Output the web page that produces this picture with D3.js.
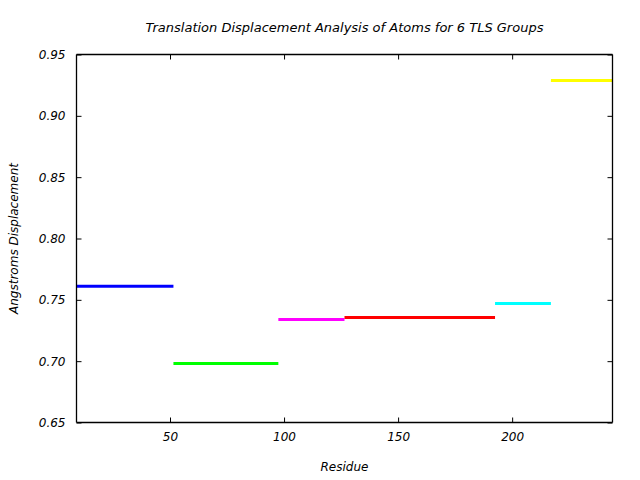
<!DOCTYPE html>
<html><head><meta charset="utf-8">
<script src="https://cdn.jsdelivr.net/npm/d3@7"></script>
<style>body{margin:0;background:#fff}</style>
</head><body>
<svg id="c" width="640" height="480"></svg>
<script>
const groupStart = [9, 51.5, 97.5, 126.5, 192.5, 217];
const groupEnd   = [51.5, 97.5, 126.5, 192.5, 217, 244];
const displacement = [0.761, 0.698, 0.734, 0.7355, 0.747, 0.9288];
const groupColors = ["#0000ff", "#00ff00", "#ff00ff", "#ff0000", "#00ffff", "#ffff00"];
const xTicks = [50, 100, 150, 200];
const yTicks = [0.65, 0.70, 0.75, 0.80, 0.85, 0.90, 0.95];

const svg = d3.select("#c");
const font = "DejaVu Sans";
const L = 76.5, R = 612.5, T = 54.5, B = 422.5;
const x = d3.scaleLinear().domain([9, 244]).range([L, R]);
const y = d3.scaleLinear().domain([0.65, 0.95]).range([B, T]);

const data = groupStart.map((s, i) => ({s, e: groupEnd[i], v: displacement[i], c: groupColors[i]}));

svg.append("g").selectAll("line").data(data).join("line")
  .attr("x1", d => x(d.s)).attr("x2", d => x(d.e))
  .attr("y1", d => y(d.v)).attr("y2", d => y(d.v))
  .attr("stroke", d => d.c).attr("stroke-width", 3);

// axes
const axB = svg.append("g").attr("transform", `translate(0,${B})`)
  .call(d3.axisBottom(x).tickValues(xTicks).tickSize(-5).tickPadding(10).tickFormat(d3.format("d")));
const axT = svg.append("g").attr("transform", `translate(0,${T})`)
  .call(d3.axisTop(x).tickValues(xTicks).tickSize(-5).tickFormat(""));
const axL = svg.append("g").attr("transform", `translate(${L},0)`)
  .call(d3.axisLeft(y).tickValues(yTicks).tickSize(-5).tickPadding(11).tickFormat(d3.format(".2f")));
const axR = svg.append("g").attr("transform", `translate(${R},0)`)
  .call(d3.axisRight(y).tickValues(yTicks).tickSize(-5).tickFormat(""));
[axB, axT, axL, axR].forEach(a => {
  a.select(".domain").attr("stroke", "#000").attr("stroke-width", 1.3);
  a.selectAll(".tick line").attr("stroke", "#000");
  a.selectAll("text").attr("font-family", font).attr("font-style", "italic")
    .attr("font-size", 12).attr("fill", "#000");
});
axB.select(".domain").attr("d", `M${L},0H${R}`);
axT.select(".domain").attr("d", `M${L},0H${R}`);
axL.select(".domain").attr("d", `M0,${y(0.95)}V${y(0.65)}`);
axR.select(".domain").attr("d", `M0,${y(0.95)}V${y(0.65)}`);

svg.append("text").attr("x", (L + R) / 2).attr("y", 32).attr("text-anchor", "middle")
  .attr("font-family", font).attr("font-style", "italic").attr("font-size", 13)
  .text("Translation Displacement Analysis of Atoms for 6 TLS Groups");
svg.append("text").attr("x", (L + R) / 2).attr("y", 471).attr("text-anchor", "middle")
  .attr("font-family", font).attr("font-style", "italic").attr("font-size", 12)
  .text("Residue");
svg.append("text").attr("transform", `translate(18,${(T + B) / 2}) rotate(-90)`)
  .attr("text-anchor", "middle")
  .attr("font-family", font).attr("font-style", "italic").attr("font-size", 12)
  .text("Angstroms Displacement");
</script>
</body></html>
